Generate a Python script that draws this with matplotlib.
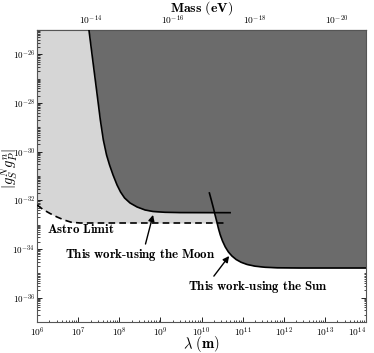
import numpy as np
import matplotlib
matplotlib.use("Agg")
import matplotlib.pyplot as plt
from matplotlib.ticker import FixedLocator, LogLocator, FuncFormatter, NullFormatter

plt.rcParams['mathtext.fontset'] = 'cm'
plt.rcParams['font.family'] = 'serif'

HBARC = 1.97327e-7  # eV m

# log10(lambda / m), log10 |g_S^N g_P^n|
moon_x = [7.262, 7.354, 7.447, 7.539, 7.612, 7.690, 7.763, 7.848, 7.945, 8.030,
          8.128, 8.261, 8.432, 8.626, 8.821, 9.112, 9.477, 10.693]
moon_y = [-25.0, -26.233, -27.466, -28.699, -29.521, -30.138, -30.549, -30.960, -31.371, -31.659,
          -31.905, -32.111, -32.275, -32.398, -32.460, -32.493, -32.505, -32.509]

sun_x = [10.190, 10.236, 10.287, 10.328, 10.372, 10.413, 10.455, 10.508, 10.576, 10.652,
         10.737, 10.839, 10.961, 11.106, 11.301, 11.544, 11.836, 12.395, 14.0]
sun_y = [-31.700, -31.987, -32.316, -32.604, -32.891, -33.179, -33.426, -33.672, -33.919, -34.124,
         -34.289, -34.433, -34.548, -34.638, -34.708, -34.753, -34.774, -34.782, -34.782]

astro_x = [6.0, 6.146, 6.316, 6.486, 6.657, 6.827, 7.046, 10.596]
astro_y = [-32.193, -32.378, -32.542, -32.686, -32.809, -32.900, -32.933, -32.933]

LIGHT = '#d6d6d6'
DARK = '#6b6b6b'

lam_moon = 10 ** np.array(moon_x)
g_moon = 10 ** np.array(moon_y)
lam_sun = 10 ** np.array(sun_x)
g_sun = 10 ** np.array(sun_y)
lam_astro = 10 ** np.array(astro_x)
g_astro = 10 ** np.array(astro_y)

fig = plt.figure(figsize=(3.74, 3.53), dpi=100)
ax = fig.add_axes([0.099, 0.088, 0.880, 0.827])
ax.set_xscale('log')
ax.set_yscale('log')
ax.set_xlim(1e6, 1e14)
ax.set_ylim(1e-37, 1e-25)

top = 1e-25
ax.fill_between(lam_astro, g_astro, top, color=LIGHT, lw=0, zorder=1)
ax.fill_between(lam_moon, g_moon, top, color=DARK, lw=0, zorder=2)
ax.fill_between(lam_sun, g_sun, top, color=DARK, lw=0, zorder=2)

ax.plot(lam_astro, g_astro, color='black', lw=1.2, ls=(0, (4, 2.5)), zorder=3)
ax.plot(lam_moon, g_moon, color='black', lw=1.2, zorder=3)
ax.plot(lam_sun, g_sun, color='black', lw=1.2, zorder=3)

def pow_fmt(v, pos):
    return r'$\mathbf{10^{%d}}$' % int(round(np.log10(v)))

ax.xaxis.set_major_locator(FixedLocator(10.0 ** np.arange(6, 15)))
ax.xaxis.set_minor_locator(LogLocator(base=10, subs=np.arange(2, 10), numticks=50))
ax.xaxis.set_major_formatter(FuncFormatter(pow_fmt))
ax.xaxis.set_minor_formatter(NullFormatter())

ax.yaxis.set_major_locator(FixedLocator(10.0 ** np.arange(-36, -25, 2)))
ax.yaxis.set_minor_locator(LogLocator(base=10, subs=np.arange(1, 10), numticks=50))
ax.yaxis.set_major_formatter(FuncFormatter(pow_fmt))
ax.yaxis.set_minor_formatter(NullFormatter())

ax.tick_params(which='both', direction='in', labelsize=6.8, right=True, top=False)
ax.tick_params(which='major', length=3.5, width=0.6)
ax.tick_params(which='minor', length=1.8, width=0.5)
ax.tick_params(axis='x', pad=2.5)
ax.tick_params(axis='y', pad=1.5, labelsize=6.5)

def lam_to_mass(x):
    x = np.asarray(x, dtype=float)
    return HBARC / np.maximum(x, 1e-300)

sec = ax.secondary_xaxis('top', functions=(lam_to_mass, lam_to_mass))
sec.xaxis.set_major_locator(FixedLocator([1e-14, 1e-16, 1e-18, 1e-20]))
sec.xaxis.set_minor_locator(LogLocator(base=10, subs=np.arange(1, 10), numticks=50))
sec.xaxis.set_major_formatter(FuncFormatter(pow_fmt))
sec.xaxis.set_minor_formatter(NullFormatter())
sec.tick_params(which='both', direction='in', labelsize=6.8, pad=2)
sec.tick_params(which='major', length=3.5, width=0.6)
sec.tick_params(which='minor', length=1.8, width=0.5)
fig.text(201.5 / 374, 1 - 8.5 / 353, r'$\mathbf{Mass\ (eV)}$', fontsize=10,
         ha='center', va='center')

for s in ax.spines.values():
    s.set_linewidth(0.8)
    s.set_color('#555555')

ax.set_xlabel(r'$\mathbf{\lambda\ (m)}$', fontsize=10.5)
ax.xaxis.label.set_va('center')
ax.xaxis.set_label_coords(0.5, -0.077)
ax.set_ylabel(r'$|g_S^N g_P^n|$', fontsize=10.5)
ax.yaxis.label.set_va('center')
ax.yaxis.set_label_coords(-0.084, 0.524)

ax.text(10 ** 6.24, 10 ** -33.22, r'$\mathbf{Astro\ Limit}$', fontsize=9.3,
        ha='left', va='center', zorder=4)
ax.annotate(r'$\mathbf{This\ work\text{-}using\ the\ Moon}$', xy=(10 ** 8.82, 10 ** -32.60),
            xytext=(10 ** 6.68, 10 ** -34.24), fontsize=9.3, ha='left', va='center',
            arrowprops=dict(arrowstyle='-|>', color='black', lw=1.0, mutation_scale=9,
                            shrinkA=0, shrinkB=0, relpos=(0.53, 1.0)), zorder=4)
ax.annotate(r'$\mathbf{This\ work\text{-}using\ the\ Sun}$', xy=(10 ** 10.67, 10 ** -34.29),
            xytext=(10 ** 9.67, 10 ** -35.56), fontsize=9.3, ha='left', va='center',
            arrowprops=dict(arrowstyle='-|>', color='black', lw=1.0, mutation_scale=9,
                            shrinkA=0, shrinkB=0, relpos=(0.17, 1.0)), zorder=4)

fig.canvas.draw()
xl = ax.get_xticklabels()
xl[-1].set_horizontalalignment('right')

fig.savefig('out.png', dpi=100)
